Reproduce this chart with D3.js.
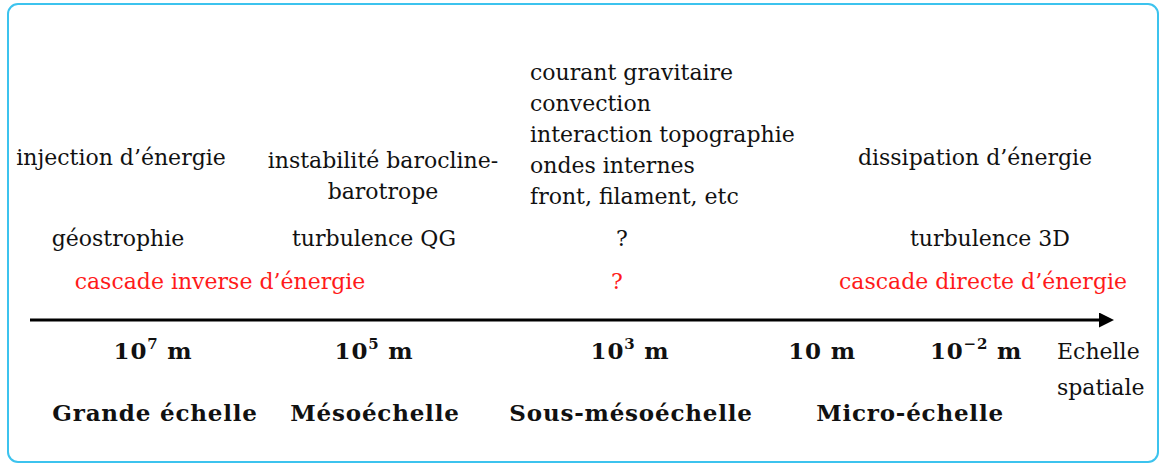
<!DOCTYPE html>
<html>
<head>
<meta charset="utf-8">
<script src="https://cdn.jsdelivr.net/npm/d3@7"></script>
<style>
  body { margin: 0; background: #fff; }
  text { font-family: "DejaVu Serif", serif; font-size: 22px; fill: #111; }
  .bold { font-weight: bold; font-size: 23px; letter-spacing: 0.8px; }
  .red { fill: #ff1a1a; }
</style>
</head>
<body>
<div class="chart"></div>
<script>
// scale ticks (exponent of 10, in metres) and their labels
const exponents = [7, 5, 3, 1, -2]
const scaleNames = ['Grande échelle', 'Mésoéchelle', 'Sous-mésoéchelle', 'Micro-échelle']
const processes = [
    ['injection d\u2019énergie'],
    ['instabilité barocline-', 'barotrope'],
    ['courant gravitaire', 'convection', 'interaction topographie', 'ondes internes', 'front, filament, etc'],
    ['dissipation d\u2019énergie']
]
const regimes = ['géostrophie', 'turbulence QG', '?', 'turbulence 3D']
const cascades = ['cascade inverse d\u2019énergie', '?', 'cascade directe d\u2019énergie']
const axisTitle = ['Echelle', 'spatiale']

const width = 1166, height = 465

const svg = d3.select('.chart')
    .append('svg')
    .attr('width', width)
    .attr('height', height)

// frame
svg.append('rect')
    .attr('x', 8).attr('y', 4)
    .attr('width', 1150).attr('height', 458)
    .attr('rx', 10)
    .attr('fill', 'none')
    .attr('stroke', '#3cc3ee')
    .attr('stroke-width', 2)

// horizontal position of the exponent ticks
const x = d3.scaleLinear()
    .domain([7, 5, 3, 1, -2])
    .range([153, 374, 630, 822, 976])

// columns: processes / regimes are placed by column index
const col = d3.scaleOrdinal()
    .domain([0, 1, 2, 3])
    .range([121, 383, 530, 975])
const regimeX = [118, 374, 622, 990]
const cascadeX = [220, 617, 983]
const nameX = [155, 375, 631, 910]

// arrow
const axisY = 320
svg.append('defs').append('marker')
    .attr('id', 'head')
    .attr('viewBox', '0 0 10 10')
    .attr('refX', 2).attr('refY', 5)
    .attr('markerWidth', 5).attr('markerHeight', 5)
    .attr('orient', 'auto')
    .append('path')
    .attr('d', 'M0,0 L10,5 L0,10 z')
    .attr('fill', '#000')

svg.append('line')
    .attr('x1', 30).attr('x2', 1102)
    .attr('y1', axisY).attr('y2', axisY)
    .attr('stroke', '#000')
    .attr('stroke-width', 3)
    .attr('marker-end', 'url(#head)')

// tick labels
const ticks = svg.selectAll('text.tick')
    .data(exponents)
    .enter()
    .append('text')
    .attr('class', 'tick bold')
    .attr('x', d => x(d))
    .attr('y', 351)
    .attr('dy', '0.35em')
    .attr('text-anchor', 'middle')

ticks.each(function(d) {
    const t = d3.select(this)
    if (d === 1) {
        t.text('10\u00a0m')
    } else {
        t.append('tspan').text('10')
        t.append('tspan')
            .attr('dy', -10)
            .style('font-size', '15px')
            .text(d < 0 ? '\u2212' + (-d) : d)
        t.append('tspan').attr('dy', 10).text('\u00a0m')
    }
})

// scale names
svg.selectAll('text.name')
    .data(scaleNames)
    .enter()
    .append('text')
    .attr('class', 'name bold')
    .attr('x', (d, i) => nameX[i])
    .attr('y', 413)
    .attr('dy', '0.35em')
    .attr('text-anchor', 'middle')
    .text(d => d)

// processes
const procY = [157, 160, 72, 157]
const proc = svg.selectAll('text.proc')
    .data(processes)
    .enter()
    .append('text')
    .attr('class', 'proc')
    .attr('text-anchor', (d, i) => i === 2 ? 'start' : 'middle')
    .attr('y', (d, i) => procY[i])

proc.selectAll('tspan')
    .data((d, i) => d.map(s => ({s, i})))
    .enter()
    .append('tspan')
    .attr('x', d => col(d.i))
    .attr('dy', (d, j) => j === 0 ? '0.35em' : 31)
    .text(d => d.s)

// regimes
svg.selectAll('text.regime')
    .data(regimes)
    .enter()
    .append('text')
    .attr('class', 'regime')
    .attr('x', (d, i) => regimeX[i])
    .attr('y', 238)
    .attr('dy', '0.35em')
    .attr('text-anchor', 'middle')
    .text(d => d)

// cascades
svg.selectAll('text.cascade')
    .data(cascades)
    .enter()
    .append('text')
    .attr('class', 'cascade red')
    .attr('x', (d, i) => cascadeX[i])
    .attr('y', 281)
    .attr('dy', '0.35em')
    .attr('text-anchor', 'middle')
    .text(d => d)

// axis title
svg.append('text')
    .attr('y', 351)
    .selectAll('tspan')
    .data(axisTitle)
    .enter()
    .append('tspan')
    .attr('x', 1057)
    .attr('dy', (d, i) => i === 0 ? '0.35em' : 36)
    .text(d => d)
</script>
</body>
</html>
